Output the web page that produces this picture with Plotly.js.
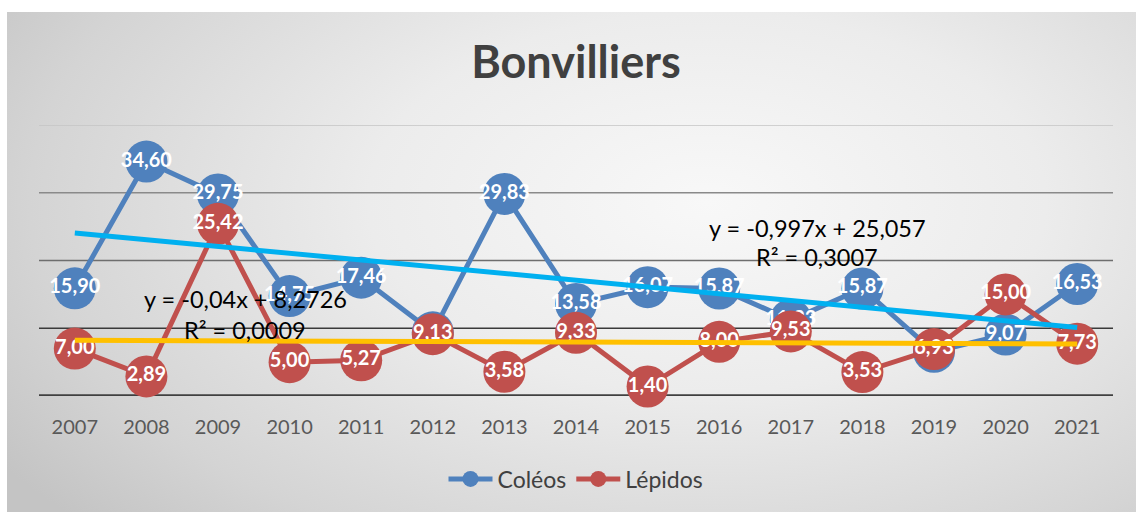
<!DOCTYPE html>
<html>
<head>
<meta charset="utf-8">
<script src="https://cdn.plot.ly/plotly-3.0.1.min.js"></script>
<style>
html,body{margin:0;padding:0;background:#ffffff;}
#bg{position:absolute;left:7px;top:12px;width:1129px;height:500px;
background:radial-gradient(ellipse 75% 95% at 62% 38%, #f8f8f8 0%, #ececec 40%, #d4d4d4 80%, #c4c4c4 100%);}
#chart{position:absolute;left:0;top:0;width:1136px;height:512px;}
</style>
</head>
<body>
<div id="bg"></div>
<div id="chart"></div>
<script>
const years = ["2007","2008","2009","2010","2011","2012","2013","2014","2015","2016","2017","2018","2019","2020","2021"];
const coleos = [15.90,34.60,29.75,14.75,17.46,9.40,29.83,13.58,16.07,15.87,11.23,15.87,6.53,9.07,16.53];
const lepidos = [7.00,2.89,25.42,5.00,5.27,9.13,3.58,9.33,1.40,8.00,9.53,3.53,6.93,15.00,7.73];
const coleosTrend = {slope:-0.997, intercept:25.057, r2:"0,3007"};
const lepidosTrend = {slope:-0.04, intercept:8.2726, r2:"0,0009"};
const gridLevels = [10,20,30,40];
const gridColors = ["#3a3a3a","#6e6e6e","#8a8a8a","#c4c4c4"];

const fmt = v => v.toFixed(2).replace('.', ',');
const trendY = t => years.map((y,i)=> t.intercept + t.slope*(i+1));
const font = "Lato, 'Open Sans', sans-serif";

const blue = "#4f81bd", red = "#c0504d";
const seriesTrace = (name, vals, color) => ({
  x: years, y: vals, name: name, type: 'scatter', mode: 'lines+markers+text',
  line: {color: color, width: 5},
  marker: {color: color, size: 42},
  text: vals.map(fmt), textposition: 'middle center',
  textfont: {color: '#ffffff', size: 20, family: font, weight: 'bold'},
  cliponaxis: false
});

const data = [
  seriesTrace('Coléos', coleos, blue),
  seriesTrace('Lépidos', lepidos, red),
  {x: years, y: trendY(coleosTrend), type:'scatter', mode:'lines', showlegend:false,
   line:{color:'#00b0f0', width:5}, hoverinfo:'skip', cliponaxis:false},
  {x: years, y: trendY(lepidosTrend), type:'scatter', mode:'lines', showlegend:false,
   line:{color:'#ffc000', width:5}, hoverinfo:'skip', cliponaxis:false}
];

const shapes = gridLevels.map((g,i)=>({type:'line', xref:'paper', x0:0, x1:1, yref:'y', y0:g, y1:g,
  line:{color:gridColors[i], width:1.5}, layer:'below'}));
shapes.push({type:'line', xref:'paper', x0:0, x1:1, yref:'y', y0:0, y1:0, line:{color:'#404040', width:3.5}, layer:'below'});

const annFont = {family: font, size: 23.5, color: '#000000'};
const layout = {
  width: 1136, height: 512,
  margin: {l: 39, r: 23, t: 125, b: 116},
  paper_bgcolor: 'rgba(0,0,0,0)', plot_bgcolor: 'rgba(0,0,0,0)',
  title: {text: '<b>Bonvilliers</b>', x: 0.507, xanchor: 'center', y: 1 - 62/512, yanchor: 'middle',
          font: {family: font, size: 45, color: '#404040'}},
  xaxis: {type: 'category', range: [-0.5, 14.5], showgrid: false, zeroline: false, showline: false,
          ticks: '', tickfont: {family: font, size: 20, color: '#595959'}, ticklabelstandoff: 17},
  yaxis: {range: [0, 40], showgrid: false, zeroline: false, showticklabels: false, fixedrange: true},
  shapes: shapes,
  showlegend: true,
  legend: {orientation: 'h', x: 0.5, xanchor: 'center', y: -0.306, yanchor: 'middle',
           font: {family: font, size: 23, color: '#404040'}, bgcolor: 'rgba(0,0,0,0)', itemwidth: 44},
  annotations: [
    {xref:'x', yref:'paper', x: 10.37, y: (396-228)/271, text: 'y = -0,997x + 25,057', showarrow:false, font: annFont},
    {xref:'x', yref:'paper', x: 10.37, y: (396-257)/271, text: 'R² = ' + coleosTrend.r2, showarrow:false, font: annFont},
    {xref:'x', yref:'paper', x: 2.38, y: (396-315)/271, text: 'y = -0,04x + 8,2726', showarrow:false, font: annFont},
    {xref:'x', yref:'paper', x: 2.38, y: (396-346)/271, text: 'R² = ' + lepidosTrend.r2, showarrow:false, font: annFont}
  ]
};
Plotly.newPlot('chart', data, layout, {displayModeBar: false, staticPlot: true});
</script>
</body>
</html>
